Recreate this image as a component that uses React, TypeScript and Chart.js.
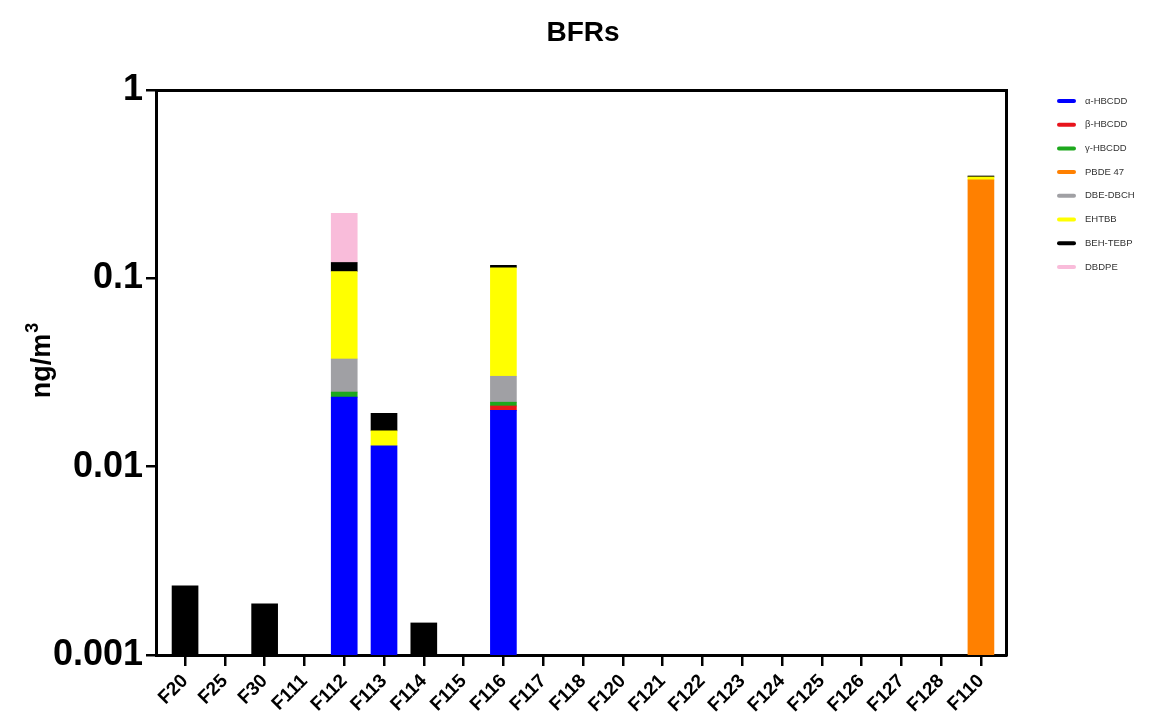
import { useEffect, useRef } from 'react';
import { Chart, registerables } from 'chart.js';

Chart.register(...registerables);

// Sampling sites along the x axis
const categories = [
  'F20', 'F25', 'F30', 'F111', 'F112', 'F113', 'F114', 'F115', 'F116', 'F117', 'F118',
  'F120', 'F121', 'F122', 'F123', 'F124', 'F125', 'F126', 'F127', 'F128', 'F110',
];

// Concentrations (ng/m³) per site; 0 = not detected
const alphaHBCDD = [0, 0, 0, 0, 0.0234, 0.0129, 0, 0, 0.0199, 0, 0, 0, 0, 0, 0, 0, 0, 0, 0, 0, 0];
const betaHBCDD = [0, 0, 0, 0, 0, 0, 0, 0, 0.0011, 0, 0, 0, 0, 0, 0, 0, 0, 0, 0, 0, 0];
const gammaHBCDD = [0, 0, 0, 0, 0.0015, 0, 0, 0, 0.001, 0, 0, 0, 0, 0, 0, 0, 0, 0, 0, 0, 0];
const pbde47 = [0, 0, 0, 0, 0, 0, 0, 0, 0, 0, 0, 0, 0, 0, 0, 0, 0, 0, 0, 0, 0.333];
const dbeDbch = [0, 0, 0, 0, 0.0124, 0, 0, 0, 0.0082, 0, 0, 0, 0, 0, 0, 0, 0, 0, 0, 0, 0];
const ehtbb = [0, 0, 0, 0, 0.0714, 0.0026, 0, 0, 0.0836, 0, 0, 0, 0, 0, 0, 0, 0, 0, 0, 0, 0.0123];
const behTebp = [0.00233, 0, 0.00187, 0, 0.0127, 0.0037, 0.00148, 0, 0.0034, 0, 0, 0, 0, 0, 0, 0, 0, 0, 0, 0, 0.0042];
const dbdpe = [0, 0, 0, 0, 0.1, 0, 0, 0, 0, 0, 0, 0, 0, 0, 0, 0, 0, 0, 0, 0, 0];

const seriesNames = ['α-HBCDD', 'β-HBCDD', 'γ-HBCDD', 'PBDE 47', 'DBE-DBCH', 'EHTBB', 'BEH-TEBP', 'DBDPE'];
const seriesValues = [alphaHBCDD, betaHBCDD, gammaHBCDD, pbde47, dbeDbch, ehtbb, behTebp, dbdpe];
const seriesColors = ['#0000FF', '#E8141C', '#1DA81D', '#FF8000', '#A0A0A4', '#FFFF00', '#000000', '#F9BCDA'];

// Log axis decades and their labels
const yTickValues = [0.001, 0.01, 0.1, 1];
const yTickLabels = ['0.001', '0.01', '0.1', '1'];

// Axis title: unit with a raised exponent
const yTitleBase = 'ng/m';
const yTitleExponent = '3';

const FONT = '"Liberation Sans", Arial, sans-serif';

// Draws the line-swatch legend to the right of the frame and the rotated unit title
const sideTextPlugin = {
  id: 'sideText',
  afterDraw(chart: any) {
    const { ctx, chartArea } = chart;
    ctx.save();

    // legend
    const x0 = chartArea.right + 51;
    const rowGap = 23.7;
    ctx.font = `9.5px ${FONT}`;
    ctx.textBaseline = 'middle';
    ctx.textAlign = 'left';
    ctx.lineCap = 'round';
    chart.data.datasets.forEach((ds: any, i: number) => {
      const y = chartArea.top + 11 + i * rowGap;
      ctx.strokeStyle = ds.backgroundColor;
      ctx.lineWidth = 4;
      ctx.beginPath();
      ctx.moveTo(x0 + 2, y);
      ctx.lineTo(x0 + 17, y);
      ctx.stroke();
      ctx.fillStyle = '#333';
      ctx.fillText(ds.label, x0 + 28, y);
    });

    // y-axis title
    const baseFont = `bold 27px ${FONT}`;
    const expFont = `bold 18px ${FONT}`;
    ctx.font = baseFont;
    const wBase = ctx.measureText(yTitleBase).width;
    ctx.font = expFont;
    const wExp = ctx.measureText(yTitleExponent).width;
    const total = wBase + 1 + wExp;
    ctx.translate(50, (chartArea.top + chartArea.bottom) / 2 - 12);
    ctx.rotate(-Math.PI / 2);
    ctx.fillStyle = '#000';
    ctx.textBaseline = 'alphabetic';
    ctx.font = baseFont;
    ctx.fillText(yTitleBase, -total / 2, 0);
    ctx.font = expFont;
    ctx.fillText(yTitleExponent, -total / 2 + wBase + 1, -12);

    ctx.restore();
  },
};

export default function App() {
  const canvasRef = useRef<HTMLCanvasElement | null>(null);

  useEffect(() => {
    const canvas = canvasRef.current;
    if (!canvas) return;

    const datasets = seriesNames.map((label, k) => ({
      label,
      data: seriesValues[k].map((v, i) => ({ x: i, y: v > 0 ? v : null })),
      backgroundColor: seriesColors[k],
      borderWidth: 0,
      barThickness: 26,
      xAxisID: 'x',
      yAxisID: 'y',
    }));

    const frameBorder = { display: true, width: 3, color: '#000' };

    const chart = new Chart(canvas, {
      type: 'bar',
      data: { datasets },
      plugins: [sideTextPlugin],
      options: {
        animation: false,
        responsive: false,
        devicePixelRatio: 1,
        layout: { padding: { left: 13, right: 0, top: 0, bottom: 0 } },
        plugins: {
          tooltip: { enabled: false },
          legend: { display: false },
          title: {
            display: true,
            text: 'BFRs',
            color: '#000',
            font: { family: FONT, size: 28, weight: 'bold' },
            padding: { top: 16, bottom: 40.4 },
          },
        },
        scales: {
          x: {
            type: 'linear',
            position: 'bottom',
            stacked: true,
            offset: false,
            min: -0.73,
            max: 20.63,
            afterBuildTicks: (scale: any) => {
              scale.ticks = categories.map((_, i) => ({ value: i }));
            },
            afterFit: (scale: any) => {
              scale.height = 65;
            },
            ticks: {
              autoSkip: false,
              minRotation: 45,
              maxRotation: 45,
              padding: 4,
              color: '#000',
              font: { family: FONT, size: 19, weight: 'bold' },
              callback: (value: any) => categories[value] ?? '',
            },
            grid: {
              display: true,
              offset: false,
              drawOnChartArea: false,
              drawTicks: true,
              tickLength: 11,
              color: '#000',
              lineWidth: 2.5,
            },
            border: frameBorder,
          },
          y: {
            type: 'logarithmic',
            position: 'left',
            stacked: true,
            min: 0.001,
            max: 1,
            afterBuildTicks: (scale: any) => {
              scale.ticks = yTickValues.map((v) => ({ value: v }));
            },
            afterFit: (scale: any) => {
              scale.width = 143;
            },
            ticks: {
              padding: 3,
              color: '#000',
              font: { family: FONT, size: 36, weight: 'bold' },
              callback: (_v: any, index: number) => yTickLabels[index],
            },
            grid: {
              display: true,
              drawOnChartArea: false,
              drawTicks: true,
              tickLength: 10,
              color: '#000',
              lineWidth: 2.5,
            },
            border: frameBorder,
          },
          // top and right edges of the plot frame
          x2: {
            type: 'linear',
            position: 'top',
            display: true,
            ticks: { display: false },
            grid: { display: false, drawTicks: false },
            border: frameBorder,
            afterFit: (scale: any) => {
              scale.height = 0;
            },
          },
          y2: {
            type: 'linear',
            position: 'right',
            display: true,
            ticks: { display: false },
            grid: { display: false, drawTicks: false },
            border: frameBorder,
            afterFit: (scale: any) => {
              scale.width = 147;
            },
          },
        },
      },
    });

    return () => chart.destroy();
  }, []);

  return (
    <div style={{ position: 'fixed', left: 0, top: 0, width: 1153, height: 720, background: '#fff' }}>
      <canvas ref={canvasRef} width={1153} height={720} />
    </div>
  );
}
